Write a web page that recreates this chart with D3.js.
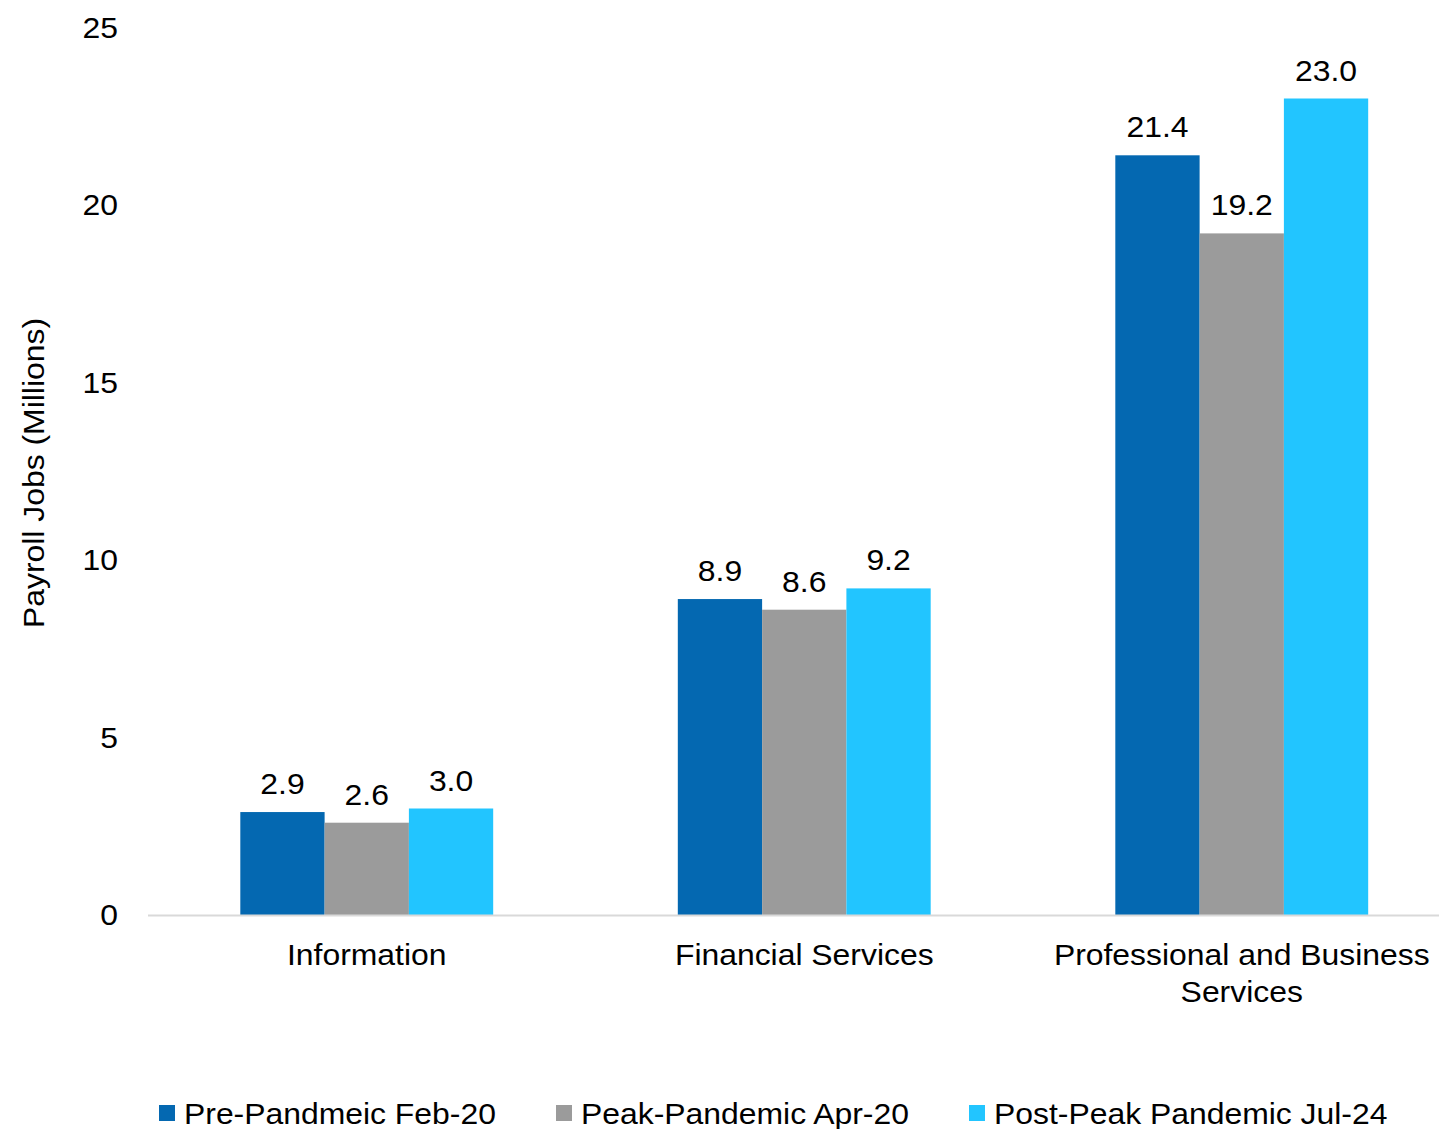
<!DOCTYPE html>
<html><head><meta charset="utf-8">
<script src="https://cdn.jsdelivr.net/npm/d3@7"></script>
<style>body{margin:0;background:#fff}svg{display:block}text{font-family:"Liberation Sans",Arial,sans-serif;fill:#000}</style>
</head><body><svg id="c" width="1439" height="1129"></svg>
<script>
const categories = ["Information", "Financial Services", "Professional and Business Services"];
const categoryLines = [["Information"], ["Financial Services"], ["Professional and Business", "Services"]];
const seriesNames = ["Pre-Pandmeic Feb-20", "Peak-Pandemic Apr-20", "Post-Peak Pandemic Jul-24"];
const preFeb20 = [2.9, 8.9, 21.4];
const peakApr20 = [2.6, 8.6, 19.2];
const postJul24 = [3.0, 9.2, 23.0];
const yTicks = [0, 5, 10, 15, 20, 25];
const colors = ["#0468b1", "#9b9b9b", "#22c5ff"];
const series = [preFeb20, peakApr20, postJul24];

const svg = d3.select("#c");
const FS = 29, SX = 1.1;
const y = d3.scaleLinear().domain([0, 25]).range([915, 27.5]);
const x0 = d3.scaleBand().domain(categories).range([148, 1460.5]).paddingInner(0.422).paddingOuter(0.211);
const x1 = d3.scaleBand().domain(d3.range(seriesNames.length)).range([0, x0.bandwidth()]);

function txt(g, x, yy, s, anchor) {
  return g.append("text").attr("transform", `translate(${x},${yy}) scale(${SX},1)`)
    .attr("text-anchor", anchor || "middle").attr("font-size", FS).text(s);
}

// y tick labels
yTicks.forEach(t => txt(svg, 118, y(t) + 10, t, "end"));

// axis title
svg.append("text").attr("transform", `translate(44,473) rotate(-90) scale(${SX},1)`)
  .attr("text-anchor", "middle").attr("font-size", FS).text("Payroll Jobs (Millions)");

// bars
categories.forEach((c, i) => {
  series.forEach((s, j) => {
    const bx = x0(c) + x1(j);
    svg.append("rect").attr("x", bx).attr("y", y(s[i])).attr("width", x1.bandwidth())
      .attr("height", y(0) - y(s[i])).attr("fill", colors[j]);
    txt(svg, bx + x1.bandwidth() / 2, y(s[i]) - 18, s[i].toFixed(1));
  });
  categoryLines[i].forEach((ln, k) => txt(svg, x0(c) + x0.bandwidth() / 2, 965 + k * 37, ln));
});

// x axis line
svg.append("line").attr("x1", 148).attr("x2", 1439).attr("y1", 915.5).attr("y2", 915.5)
  .attr("stroke", "#d9d9d9").attr("stroke-width", 2);

// legend
const legX = [159, 556, 969];
seriesNames.forEach((n, j) => {
  svg.append("rect").attr("x", legX[j]).attr("y", 1105).attr("width", 16).attr("height", 16).attr("fill", colors[j]);
  txt(svg, legX[j] + 25, 1124, n, "start");
});
</script></body></html>
